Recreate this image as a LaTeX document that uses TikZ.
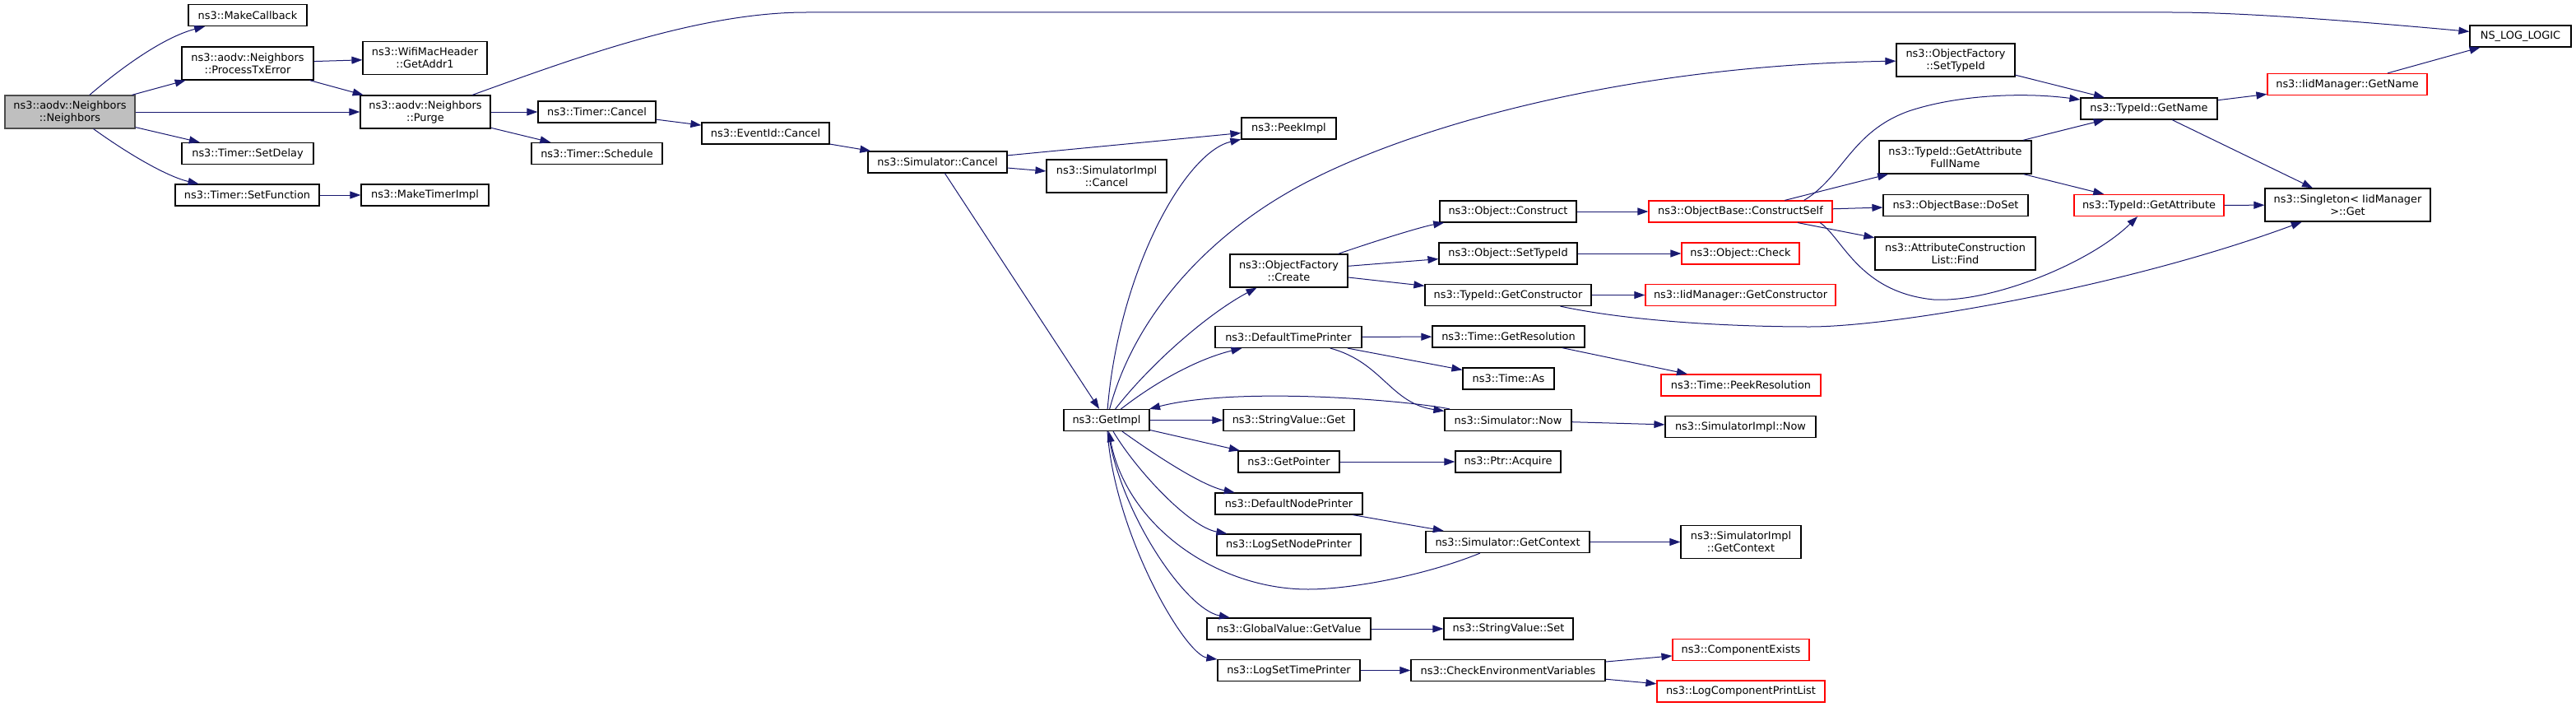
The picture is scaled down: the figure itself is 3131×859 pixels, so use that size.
\documentclass[tikz,border=0pt]{standalone}
\usepackage{fontspec}
\setmainfont{DejaVu Sans}
\usepackage{tikz}
\usetikzlibrary{arrows.meta}
\definecolor{edgeblue}{HTML}{191970}
\definecolor{rootgray}{HTML}{BFBFBF}
\def\CallNodes{
    \node[fnroot, minimum width=158pt] (Neighbors) at (85,136) {ns3::aodv::Neighbors\\::Neighbors};
    \node[fn, minimum width=144pt] (MakeCallback) at (301,18.5) {ns3::MakeCallback};
    \node[fn2, minimum width=160pt] (ProcessTxError) at (301,77) {ns3::aodv::Neighbors\\::ProcessTxError};
    \node[fn, minimum width=160pt] (SetDelay) at (301,186.5) {ns3::Timer::SetDelay};
    \node[fn, minimum width=175pt] (SetFunction) at (300.5,237) {ns3::Timer::SetFunction};
    \node[fn2, minimum width=151pt] (GetAddr1) at (516.5,70.5) {ns3::WifiMacHeader\\::GetAddr1};
    \node[fn2, minimum width=158pt] (Purge) at (517,136) {ns3::aodv::Neighbors\\::Purge};
    \node[fn, minimum width=155pt] (MakeTimerImpl) at (516.5,237) {ns3::MakeTimerImpl};
    \node[fn, minimum width=143pt] (TimerCancel) at (725.5,136) {ns3::Timer::Cancel};
    \node[fn, minimum width=159pt] (TimerSchedule) at (725.5,186.5) {ns3::Timer::Schedule};
    \node[fn, minimum width=155pt] (EventIdCancel) at (930.5,162) {ns3::EventId::Cancel};
    \node[fn, minimum width=169pt] (SimCancel) at (1139.5,197) {ns3::Simulator::Cancel};
    \node[fn2, minimum width=146pt] (SimImplCancel) at (1345,214) {ns3::SimulatorImpl\\::Cancel};
    \node[fn, minimum width=115pt] (PeekImpl) at (1566.5,156) {ns3::PeekImpl};
    \node[fn, minimum width=104pt] (GetImpl) at (1345,510.5) {ns3::GetImpl};
    \node[fn2, minimum width=143pt] (ObjFactoryCreate) at (1566.5,329) {ns3::ObjectFactory\\::Create};
    \node[fn, minimum width=178pt] (DefaultTimePrinter) at (1566,409.5) {ns3::DefaultTimePrinter};
    \node[fn, minimum width=159pt] (StringValueGet) at (1566.5,510.5) {ns3::StringValue::Get};
    \node[fn, minimum width=123pt] (GetPointer) at (1566.5,561) {ns3::GetPointer};
    \node[fn, minimum width=179pt] (DefaultNodePrinter) at (1566.5,612) {ns3::DefaultNodePrinter};
    \node[fn, minimum width=175pt] (LogSetNodePrinter) at (1566.5,662) {ns3::LogSetNodePrinter};
    \node[fn, minimum width=199pt] (GlobalValueGetValue) at (1566.5,764) {ns3::GlobalValue::GetValue};
    \node[fn, minimum width=173pt] (LogSetTimePrinter) at (1566.5,814.5) {ns3::LogSetTimePrinter};
    \node[fn, minimum width=166pt] (ObjectConstruct) at (1833,257) {ns3::Object::Construct};
    \node[fn, minimum width=168pt] (ObjectSetTypeId) at (1833,308) {ns3::Object::SetTypeId};
    \node[fn, minimum width=202pt] (TypeIdGetConstructor) at (1833,358.5) {ns3::TypeId::GetConstructor};
    \node[fn, minimum width=185pt] (TimeGetResolution) at (1833.5,409) {ns3::Time::GetResolution};
    \node[fn, minimum width=111pt] (TimeAs) at (1833.5,460) {ns3::Time::As};
    \node[fn, minimum width=154pt] (SimNow) at (1833,510.5) {ns3::Simulator::Now};
    \node[fn, minimum width=128pt] (PtrAcquire) at (1833,561) {ns3::Ptr::Acquire};
    \node[fn, minimum width=199pt] (SimGetContext) at (1832.5,658.5) {ns3::Simulator::GetContext};
    \node[fn, minimum width=157pt] (StringValueSet) at (1833.5,764) {ns3::StringValue::Set};
    \node[fn, minimum width=236pt] (CheckEnv) at (1833,814.5) {ns3::CheckEnvironmentVariables};
    \node[fnred, minimum width=223pt] (ConstructSelf) at (2115.5,257) {ns3::ObjectBase::ConstructSelf};
    \node[fnred, minimum width=143pt] (ObjectCheck) at (2115.5,308) {ns3::Object::Check};
    \node[fnred, minimum width=231pt] (IidGetConstructor) at (2115.5,358.5) {ns3::IidManager::GetConstructor};
    \node[fnred, minimum width=194pt] (TimePeekResolution) at (2116,468) {ns3::Time::PeekResolution};
    \node[fn, minimum width=183pt] (SimImplNow) at (2115.5,518.5) {ns3::SimulatorImpl::Now};
    \node[fn2, minimum width=146pt] (SimImplGetContext) at (2116,658.5) {ns3::SimulatorImpl\\::GetContext};
    \node[fnred, minimum width=166pt] (ComponentExists) at (2116,789.5) {ns3::ComponentExists};
    \node[fnred, minimum width=204pt] (LogComponentPrintList) at (2116,840) {ns3::LogComponentPrintList};
    \node[fn2, minimum width=144pt] (ObjFactorySetTypeId) at (2377,73) {ns3::ObjectFactory\\::SetTypeId};
    \node[fn2, minimum width=185pt] (GetAttributeFullName) at (2376.5,191) {ns3::TypeId::GetAttribute\\FullName};
    \node[fn, minimum width=176pt] (DoSet) at (2377,249.5) {ns3::ObjectBase::DoSet};
    \node[fn2, minimum width=195pt] (AttrConstrListFind) at (2376.5,308) {ns3::AttributeConstruction\\List::Find};
    \node[fn, minimum width=166pt] (TypeIdGetName) at (2612,132) {ns3::TypeId::GetName};
    \node[fnred, minimum width=182pt] (TypeIdGetAttribute) at (2612,249.5) {ns3::TypeId::GetAttribute};
    \node[fnred, minimum width=194pt] (IidGetName) at (2853,102.5) {ns3::IidManager::GetName};
    \node[fn2, minimum width=201pt] (SingletonGet) at (2853.5,249) {ns3::Singleton< IidManager\\>::Get};
    \node[fn, minimum width=123pt] (NSLogLogic) at (3063.5,44) {NS\_LOG\_LOGIC};
}

\begin{document}
\begin{tikzpicture}[x=1pt, y=-1pt,
    fn/.style={draw=black, line width=1.2pt, fill=white, inner sep=0pt, minimum height=26pt,
        align=center, font=\fontsize{12.9}{15}\selectfont},
    fn2/.style={fn, minimum height=40pt},
    fnred/.style={fn, draw=red},
    fnroot/.style={fn2, draw=black!70, fill=rootgray},
    callarrow/.style={draw=edgeblue, line width=1pt, -{Triangle[length=13pt,width=9pt]}}]
    \useasboundingbox (0,0) rectangle (3131,859);
    \CallNodes

    \draw[callarrow] (Neighbors) .. controls (150,80) and (200,45) .. (MakeCallback);
    \draw[callarrow] (Neighbors) -- (ProcessTxError);
    \draw[callarrow] (Neighbors) -- (Purge);
    \draw[callarrow] (Neighbors) -- (SetDelay);
    \draw[callarrow] (Neighbors) .. controls (160,190) and (205,215) .. (SetFunction);
    \draw[callarrow] (ProcessTxError) -- (GetAddr1);
    \draw[callarrow] (ProcessTxError) -- (Purge);
    \draw[callarrow] (SetFunction) -- (MakeTimerImpl);
    \draw[callarrow] (Purge) -- (TimerCancel);
    \draw[callarrow] (Purge) -- (TimerSchedule);
    \draw[callarrow] (Purge) .. controls (700,70) and (850,15) .. (980,15) -- (2640,15) .. controls (2700,15) and (2800,20) .. (NSLogLogic);
    \draw[callarrow] (TimerCancel) -- (EventIdCancel);
    \draw[callarrow] (EventIdCancel) -- (SimCancel);
    \draw[callarrow] (SimCancel) -- (PeekImpl);
    \draw[callarrow] (SimCancel) -- (SimImplCancel);
    \draw[callarrow] (SimCancel) -- (GetImpl);

    \draw[callarrow] (GetImpl) .. controls (1360,330) and (1440,185) .. (PeekImpl);
    \draw[callarrow] (GetImpl) .. controls (1380,380) and (1470,290) .. (1560,237) .. controls (1680,165) and (1950,80) .. (ObjFactorySetTypeId);
    \draw[callarrow] (GetImpl) .. controls (1400,440) and (1470,380) .. (ObjFactoryCreate);
    \draw[callarrow] (GetImpl) .. controls (1410,460) and (1460,435) .. (DefaultTimePrinter);
    \draw[callarrow] (GetImpl) -- (StringValueGet);
    \draw[callarrow] (GetImpl) -- (GetPointer);
    \draw[callarrow] (GetImpl) .. controls (1400,550) and (1460,590) .. (DefaultNodePrinter);
    \draw[callarrow] (GetImpl) .. controls (1380,570) and (1445,640) .. (LogSetNodePrinter);
    \draw[callarrow] (GetImpl) .. controls (1360,620) and (1440,740) .. (GlobalValueGetValue);
    \draw[callarrow] (GetImpl) .. controls (1355,650) and (1440,795) .. (LogSetTimePrinter);

    \draw[callarrow] (ObjFactoryCreate) .. controls (1680,290) and (1730,275) .. (ObjectConstruct);
    \draw[callarrow] (ObjFactoryCreate) -- (ObjectSetTypeId);
    \draw[callarrow] (ObjFactoryCreate) -- (TypeIdGetConstructor);
    \draw[callarrow] (ObjectConstruct) -- (ConstructSelf);
    \draw[callarrow] (ObjectSetTypeId) -- (ObjectCheck);
    \draw[callarrow] (TypeIdGetConstructor) -- (IidGetConstructor);
    \draw[callarrow] (TypeIdGetConstructor) .. controls (1980,390) and (2100,397) .. (2200,397) .. controls (2300,397) and (2580,350) .. (SingletonGet);

    \draw[callarrow] (DefaultTimePrinter) -- (TimeGetResolution);
    \draw[callarrow] (DefaultTimePrinter) -- (TimeAs);
    \draw[callarrow] (DefaultTimePrinter) .. controls (1680,440) and (1690,490) .. (SimNow);
    \draw[callarrow] (TimeGetResolution) -- (TimePeekResolution);
    \draw[callarrow] (SimNow) .. controls (1700,485) and (1500,470) .. (GetImpl);
    \draw[callarrow] (SimNow) -- (SimImplNow);
    \draw[callarrow] (GetPointer) -- (PtrAcquire);
    \draw[callarrow] (DefaultNodePrinter) -- (SimGetContext);
    \draw[callarrow] (SimGetContext) -- (SimImplGetContext);
    \draw[callarrow] (SimGetContext) .. controls (1730,700) and (1640,716) .. (1590,716) .. controls (1480,716) and (1370,640) .. (GetImpl);
    \draw[callarrow] (GlobalValueGetValue) -- (StringValueSet);
    \draw[callarrow] (LogSetTimePrinter) -- (CheckEnv);
    \draw[callarrow] (CheckEnv) -- (ComponentExists);
    \draw[callarrow] (CheckEnv) -- (LogComponentPrintList);

    \draw[callarrow] (ConstructSelf) -- (GetAttributeFullName);
    \draw[callarrow] (ConstructSelf.10) .. controls (2240,215) and (2250,160) .. (2320,135) .. controls (2380,115) and (2460,112) .. (TypeIdGetName);
    \draw[callarrow] (ConstructSelf) -- (DoSet);
    \draw[callarrow] (ConstructSelf) -- (AttrConstrListFind);
    \draw[callarrow] (ConstructSelf.-8) .. controls (2240,290) and (2260,355) .. (2350,364) .. controls (2420,368) and (2540,320) .. (TypeIdGetAttribute);
    \draw[callarrow] (ObjFactorySetTypeId) -- (TypeIdGetName);
    \draw[callarrow] (GetAttributeFullName) -- (TypeIdGetName);
    \draw[callarrow] (GetAttributeFullName) -- (TypeIdGetAttribute);
    \draw[callarrow] (TypeIdGetName) -- (IidGetName);
    \draw[callarrow] (TypeIdGetName) -- (SingletonGet);
    \draw[callarrow] (TypeIdGetAttribute) -- (SingletonGet);
    \draw[callarrow] (IidGetName) -- (NSLogLogic);
\end{tikzpicture}
\end{document}
